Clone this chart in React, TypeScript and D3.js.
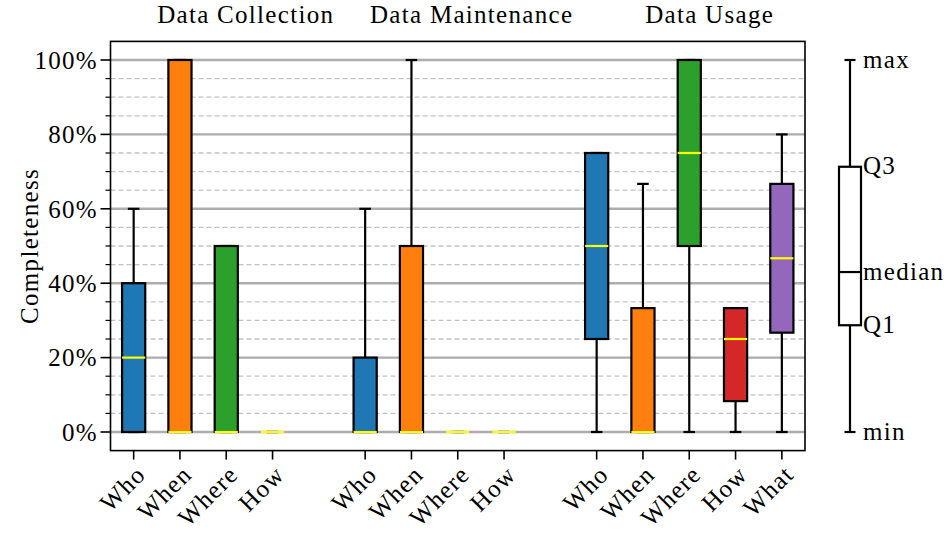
import React from "react"
import * as d3 from "d3"

const groupTitles = ["Data Collection", "Data Maintenance", "Data Usage"]
const groupTitleX = [2.42, 7.3, 12.44]

const labels = ["Who", "When", "Where", "How", "Who", "When", "Where", "How", "Who", "When", "Where", "How", "What"]
const slots = [0, 1, 2, 3, 5, 6, 7, 8, 10, 11, 12, 13, 14]
const mins = [0, 0, 0, 0, 0, 0, 0, 0, 0, 0, 0, 0, 0]
const q1s = [0, 0, 0, 0, 0, 0, 0, 0, 25, 0, 50, 8.3, 26.7]
const medians = [20, 0, 0, 0, 0, 0, 0, 0, 50, 0, 75, 25, 46.7]
const q3s = [40, 100, 50, 0, 20, 50, 0, 0, 75, 33.3, 100, 33.3, 66.7]
const maxs = [60, 100, 50, 0, 60, 100, 0, 0, 75, 66.7, 100, 33.3, 80]
const boxColors = ["#1f77b4", "#ff7f0e", "#2ca02c", "#d62728", "#1f77b4", "#ff7f0e", "#2ca02c", "#d62728", "#1f77b4", "#ff7f0e", "#2ca02c", "#d62728", "#9467bd"]

const yMajor = [0, 20, 40, 60, 80, 100]
const yMinor = d3.range(0, 101, 5).filter(v => v % 20 !== 0)

const legendStats = [0, 28.7, 43, 71.3, 100]
const legendLabels = ["min", "Q1", "median", "Q3", "max"]

const FONT = "'Liberation Serif', 'Times New Roman', serif"
const LS = 1.3

export default function App() {
  const width = 944
  const height = 533
  const left = 110.5
  const right = 805
  const top = 41.4
  const bottom = 450.6

  const x = d3.scaleLinear().domain([-0.5, 14.5]).range([left, right])
  const y = d3.scaleLinear().domain([-5, 105]).range([bottom, top])
  const boxW = (x(1) - x(0)) * 0.5
  const capW = boxW * 0.5

  const legX = 850
  const legBoxW = 22
  const legCapW = 11

  return (
    <svg width={width} height={height} style={{ position: "absolute", left: 0, top: 0 }} fontFamily={FONT} letterSpacing={LS}>
      <rect width={width} height={height} fill="white" />
      {/* grid */}
      {yMinor.map(v => (
        <line key={"mn" + v} x1={left} x2={right} y1={y(v)} y2={y(v)} stroke="#c4c4c4" strokeWidth={1.3} strokeDasharray="5,3" />
      ))}
      {yMajor.map(v => (
        <line key={"mj" + v} x1={left} x2={right} y1={y(v)} y2={y(v)} stroke="#adadad" strokeWidth={2.4} />
      ))}

      {/* boxes */}
      {slots.map((s, i) => {
        const cx = x(s)
        return (
          <g key={"b" + i}>
            <line x1={cx} x2={cx} y1={y(q3s[i])} y2={y(maxs[i])} stroke="black" strokeWidth={2.2} />
            <line x1={cx} x2={cx} y1={y(mins[i])} y2={y(q1s[i])} stroke="black" strokeWidth={2.2} />
            <line x1={cx - capW / 2} x2={cx + capW / 2} y1={y(maxs[i])} y2={y(maxs[i])} stroke="black" strokeWidth={2.2} />
            <line x1={cx - capW / 2} x2={cx + capW / 2} y1={y(mins[i])} y2={y(mins[i])} stroke="black" strokeWidth={2.2} />
            <rect x={cx - boxW / 2} width={boxW} y={y(q3s[i])} height={y(q1s[i]) - y(q3s[i])} fill={boxColors[i]} stroke="black" strokeWidth={2.2} />
            <line x1={cx - boxW / 2} x2={cx + boxW / 2} y1={y(medians[i])} y2={y(medians[i])} stroke="#ffff00" strokeWidth={2.2} />
          </g>
        )
      })}

      {/* frame */}
      <rect x={left} y={top} width={right - left} height={bottom - top} fill="none" stroke="black" strokeWidth={1.6} />

      {/* y ticks */}
      {yMajor.map(v => (
        <g key={"yt" + v}>
          <line x1={left - 10} x2={left} y1={y(v)} y2={y(v)} stroke="black" strokeWidth={1.6} />
          <text x={98} y={y(v)} dy="0.35em" textAnchor="end" fontSize={25}>{v}%</text>
        </g>
      ))}
      {yMinor.map(v => (
        <line key={"ym" + v} x1={left - 5} x2={left} y1={y(v)} y2={y(v)} stroke="black" strokeWidth={1.2} />
      ))}
      <text transform={`translate(29,${(top + bottom) / 2}) rotate(-90)`} textAnchor="middle" dy="0.35em" fontSize={25}>Completeness</text>

      {/* x ticks */}
      {slots.map((s, i) => (
        <g key={"xt" + i}>
          <line x1={x(s)} x2={x(s)} y1={bottom} y2={bottom + 9} stroke="black" strokeWidth={1.6} />
          <text transform={`translate(${x(s) + 1},${bottom + 13}) rotate(-45)`} textAnchor="end" dy="0.7em" fontSize={25}>{labels[i]}</text>
        </g>
      ))}

      {/* group titles */}
      {groupTitles.map((t, i) => (
        <text key={"gt" + i} x={x(groupTitleX[i])} y={23} textAnchor="middle" fontSize={25}>{t}</text>
      ))}

      {/* legend */}
      <line x1={legX} x2={legX} y1={y(legendStats[0])} y2={y(legendStats[1])} stroke="black" strokeWidth={2.2} />
      <line x1={legX} x2={legX} y1={y(legendStats[3])} y2={y(legendStats[4])} stroke="black" strokeWidth={2.2} />
      <line x1={legX - legCapW / 2} x2={legX + legCapW / 2} y1={y(legendStats[0])} y2={y(legendStats[0])} stroke="black" strokeWidth={2.2} />
      <line x1={legX - legCapW / 2} x2={legX + legCapW / 2} y1={y(legendStats[4])} y2={y(legendStats[4])} stroke="black" strokeWidth={2.2} />
      <rect x={legX - legBoxW / 2} width={legBoxW} y={y(legendStats[3])} height={y(legendStats[1]) - y(legendStats[3])} fill="white" stroke="black" strokeWidth={2.2} />
      <line x1={legX - legBoxW / 2} x2={legX + legBoxW / 2} y1={y(legendStats[2])} y2={y(legendStats[2])} stroke="black" strokeWidth={2.2} />
      {legendLabels.map((l, i) => (
        <text key={"ll" + i} x={legX + 13} y={y(legendStats[i])} dy="0.3em" fontSize={25}>{l}</text>
      ))}
    </svg>
  )
}
